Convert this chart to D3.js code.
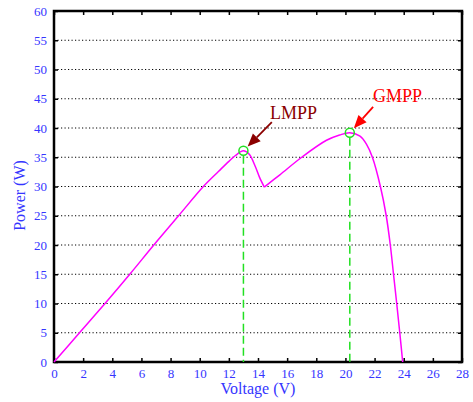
<!DOCTYPE html>
<html>
<head>
<meta charset="utf-8">
<script src="https://cdn.jsdelivr.net/npm/d3@7"></script>
<style>
  html, body { margin: 0; padding: 0; background: #fff; }
  svg { display: block; }
  text { font-family: "Liberation Serif", "Times New Roman", serif; }
</style>
</head>
<body>
<div id="chart"></div>
<script>
// P-V curve
const voltage = [0, 1.75, 3.5, 5.2, 6.85, 8.55, 10.25, 11.3, 12.0, 12.45, 13.0, 13.4, 13.8, 14.1, 14.43,
  15.5, 17.0, 18.7, 19.6, 20.3, 21.0, 21.45, 21.85, 22.4, 22.8, 23.08, 23.3, 23.52, 23.73, 23.93]
const power = [0, 5, 10, 15, 20, 25, 30, 32.6, 34.3, 35.3, 36.1, 35.5, 33.5, 31.6, 29.9,
  32.0, 35.0, 37.9, 38.8, 39.2, 38.6, 37.2, 35, 30, 25, 20, 15, 10, 5, 0]

const xTicks = d3.range(0, 29, 2)
const yTicks = d3.range(0, 61, 5)

// maximum power points
const mppNames = ['LMPP', 'GMPP']
const mppVoltage = [13.0, 20.3]
const mppPower = [36.1, 39.2]
const mppColors = ['#8b0000', '#ff0000']

const width = 473
const height = 402
const margin = { top: 11, right: 11, bottom: 40, left: 54 }

const svg = d3.select('#chart').append('svg')
  .attr('width', width)
  .attr('height', height)

const x = d3.scaleLinear().domain([0, 28]).range([margin.left, width - margin.right])
const y = d3.scaleLinear().domain([0, 60]).range([height - margin.bottom, margin.top])

const blue = '#3535ff'
const serif = '"Liberation Serif", "Times New Roman", serif'

/* dotted horizontal grid */
svg.append('g')
  .selectAll('line')
  .data(yTicks.filter(d => d > 0 && d < 60))
  .enter().append('line')
  .attr('x1', x(0)).attr('x2', x(28))
  .attr('y1', d => y(d)).attr('y2', d => y(d))
  .attr('stroke', '#000')
  .attr('stroke-width', 1)
  .attr('stroke-dasharray', '1.2,2.3')

/* axes, ticks inward on all sides */
const axes = [
  svg.append('g')
    .attr('transform', `translate(0,${y(0)})`)
    .call(d3.axisBottom(x).tickValues(xTicks).tickSizeInner(-4).tickSizeOuter(0).tickPadding(7)),
  svg.append('g')
    .attr('transform', `translate(${x(0)},0)`)
    .call(d3.axisLeft(y).tickValues(yTicks).tickSizeInner(-4).tickSizeOuter(0).tickPadding(7)),
  svg.append('g')
    .attr('transform', `translate(0,${y(60)})`)
    .call(d3.axisTop(x).tickValues(xTicks).tickSizeInner(-4).tickSizeOuter(0).tickFormat('')),
  svg.append('g')
    .attr('transform', `translate(${x(28)},0)`)
    .call(d3.axisRight(y).tickValues(yTicks).tickSizeInner(-4).tickSizeOuter(0).tickFormat(''))
]
axes.forEach(g => {
  g.attr('font-family', serif).attr('font-size', 13)
  g.select('.domain').attr('stroke', 'none')
  g.selectAll('.tick line').attr('stroke', '#000').attr('stroke-width', 1.5)
  g.selectAll('.tick text').attr('fill', blue)
})

svg.append('rect')
  .attr('x', x(0)).attr('y', y(60))
  .attr('width', x(28) - x(0)).attr('height', y(0) - y(60))
  .attr('fill', 'none')
  .attr('stroke', '#000')
  .attr('stroke-width', 2.5)

/* axis titles */
svg.append('text')
  .attr('x', (x(0) + x(28)) / 2)
  .attr('y', 394)
  .attr('text-anchor', 'middle')
  .attr('fill', blue)
  .attr('font-family', serif)
  .attr('font-size', 16)
  .text('Voltage (V)')

svg.append('text')
  .attr('transform', `translate(25,${(y(0) + y(60)) / 2 + 9}) rotate(-90)`)
  .attr('text-anchor', 'middle')
  .attr('fill', blue)
  .attr('font-family', serif)
  .attr('font-size', 16)
  .text('Power (W)')

/* green dashed markers */
svg.append('g')
  .selectAll('line')
  .data(mppVoltage)
  .enter().append('line')
  .attr('x1', d => x(d)).attr('x2', d => x(d))
  .attr('y1', (d, i) => y(mppPower[i]) + 5)
  .attr('y2', y(0))
  .attr('stroke', '#22e022')
  .attr('stroke-width', 1.5)
  .attr('stroke-dasharray', '8,4')

/* curve, split at the dip so the cusp stays sharp */
const pts = voltage.map((v, i) => [v, power[i]])
const dip = power.indexOf(d3.min(power.slice(8, 20)))
const line = d3.line()
  .x(d => x(d[0]))
  .y(d => y(d[1]))
  .curve(d3.curveCatmullRom.alpha(0.5))

svg.append('g')
  .selectAll('path')
  .data([pts.slice(0, dip + 1), pts.slice(dip)])
  .enter().append('path')
  .attr('d', line)
  .attr('fill', 'none')
  .attr('stroke', '#ff00ff')
  .attr('stroke-width', 1.5)

svg.append('g')
  .selectAll('circle')
  .data(mppVoltage)
  .enter().append('circle')
  .attr('cx', d => x(d))
  .attr('cy', (d, i) => y(mppPower[i]))
  .attr('r', 4.5)
  .attr('fill', 'none')
  .attr('stroke', '#22e022')
  .attr('stroke-width', 1.5)

/* annotations: label position and arrow tail in data units */
const labelV = [14.83, 21.9]
const labelP = [41.6, 44.4]
const tailV = [14.95, 21.9]
const tailP = [41.0, 43.6]

mppNames.forEach((name, i) => {
  const x0 = x(tailV[i]); const y0 = y(tailP[i])
  const cx = x(mppVoltage[i]); const cy = y(mppPower[i])
  const dx = cx - x0; const dy = cy - y0
  const len = Math.hypot(dx, dy)
  const ux = dx / len; const uy = dy / len
  const tipX = cx - ux * 6; const tipY = cy - uy * 6
  const baseX = tipX - ux * 13; const baseY = tipY - uy * 13
  const hw = 5.5

  svg.append('line')
    .attr('x1', x0).attr('y1', y0)
    .attr('x2', baseX).attr('y2', baseY)
    .attr('stroke', mppColors[i])
    .attr('stroke-width', 1.8)

  svg.append('path')
    .attr('d', `M${tipX},${tipY}L${baseX - uy * hw},${baseY + ux * hw}L${baseX + uy * hw},${baseY - ux * hw}Z`)
    .attr('fill', mppColors[i])

  svg.append('text')
    .attr('x', x(labelV[i]))
    .attr('y', y(labelP[i]))
    .attr('fill', mppColors[i])
    .attr('font-family', serif)
    .attr('font-size', 18)
    .text(name)
})
</script>
</body>
</html>
